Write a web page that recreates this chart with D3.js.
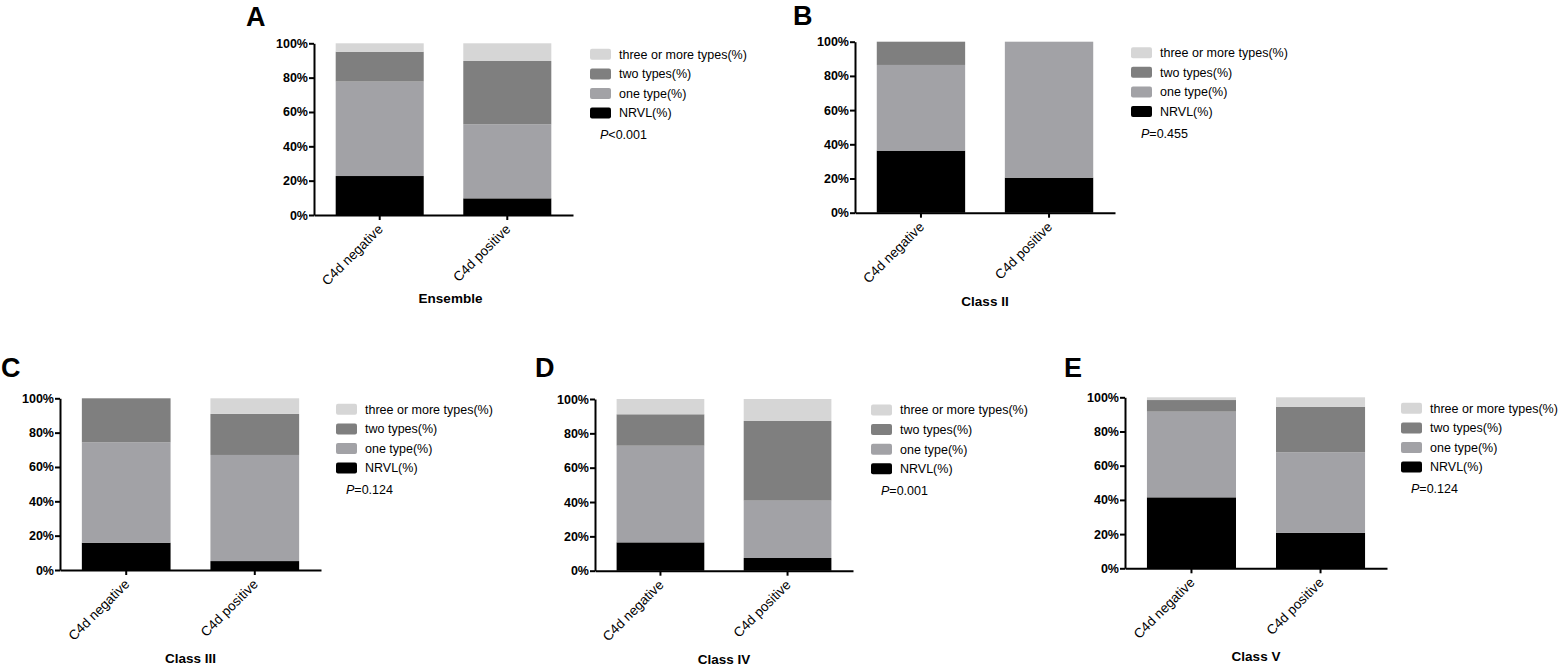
<!DOCTYPE html>
<html>
<head>
<meta charset="utf-8">
<script src="https://cdn.jsdelivr.net/npm/d3@7"></script>
<style>
  body { margin: 0; background: #fff; }
  svg { display: block; font-family: Arial, "Liberation Sans", sans-serif; }
</style>
</head>
<body>
<svg id="chart" width="1560" height="668"></svg>
<script>
// categories and series
const categories = ["C4d negative", "C4d positive"];
const seriesNames = ["NRVL(%)", "one type(%)", "two types(%)", "three or more types(%)"];
const seriesColors = ["#000000", "#a2a2a6", "#7f7f7f", "#d6d6d6"];

// one entry per panel
const panelLetters = ["A", "B", "C", "D", "E"];
const panelTitles = ["Ensemble", "Class II", "Class III", "Class IV", "Class V"];
const pSign = ["<", "=", "=", "=", "="];
const pValues = ["0.001", "0.455", "0.124", "0.001", "0.124"];

// values per panel: [C4d negative, C4d positive]
const nrvl      = [[22.7, 9.7], [36.3, 20.5], [15.9, 5.2], [16.5, 7.4], [41.5, 20.7]];
const oneType   = [[55.0, 43.1], [50.1, 79.5], [58.5, 61.8], [56.3, 33.4], [50.1, 47.1]];
const twoTypes  = [[17.4, 36.9], [13.6, 0], [25.6, 23.9], [18.3, 46.4], [6.8, 26.7]];
const threeMore = [[4.9, 10.3], [0, 0], [0, 9.1], [8.9, 12.8], [1.6, 5.5]];

const yTicks = [0, 20, 40, 60, 80, 100];

// layout of each panel (axis origin, letter placement, title offsets)
const layout = [
  { x0: 314, x1: 573, top: 43.3, bottom: 215,   lx: 246, ly: 26,  ty: 83, tx: 7 },
  { x0: 855, x1: 1115, top: 41.7, bottom: 212.7, lx: 793, ly: 25,  ty: 88, tx: 0 },
  { x0: 60,  x1: 321, top: 398.3, bottom: 570,   lx: 1,   ly: 377, ty: 88, tx: 0 },
  { x0: 595, x1: 853, top: 399,   bottom: 570.7, lx: 535, ly: 377, ty: 88, tx: 0 },
  { x0: 1125, x1: 1387, top: 397.3, bottom: 568.3, lx: 1064, ly: 377, ty: 88, tx: 0 }
];

const svg = d3.select("#chart");

function drawPanel(i) {
  const L = layout[i];
  const g = svg.append("g");

  const x = d3.scaleBand()
    .domain(categories)
    .range([L.x0, L.x1])
    .paddingInner(0.31)
    .paddingOuter(0.17);

  const y = d3.scaleLinear()
    .domain([0, 100])
    .range([L.bottom, L.top]);

  // stack the four series
  const rows = categories.map((c, j) => ({
    cat: c,
    "NRVL(%)": nrvl[i][j],
    "one type(%)": oneType[i][j],
    "two types(%)": twoTypes[i][j],
    "three or more types(%)": threeMore[i][j]
  }));
  const stacked = d3.stack().keys(seriesNames)(rows);

  g.selectAll("g.layer")
    .data(stacked)
    .join("g")
    .attr("class", "layer")
    .attr("fill", (d, k) => seriesColors[k])
    .selectAll("rect")
    .data(d => d)
    .join("rect")
    .attr("x", d => x(d.data.cat))
    .attr("width", x.bandwidth())
    .attr("y", d => y(d[1]))
    .attr("height", d => Math.max(0, y(d[0]) - y(d[1])));

  // y axis
  const yAxis = g.append("g")
    .attr("transform", `translate(${L.x0},0)`)
    .call(d3.axisLeft(y).tickValues(yTicks).tickFormat(d => d + "%").tickSize(5).tickSizeOuter(0));
  yAxis.select(".domain").attr("stroke-width", 2);
  yAxis.selectAll(".tick line").attr("stroke-width", 2);
  yAxis.selectAll(".tick text")
    .attr("x", -6)
    .style("font-size", "12.5px")
    .style("font-weight", "bold")
    .attr("fill", "#000");

  // x axis
  const xAxis = g.append("g")
    .attr("transform", `translate(0,${L.bottom})`)
    .call(d3.axisBottom(x).tickSize(5).tickSizeOuter(0));
  xAxis.select(".domain").attr("stroke-width", 2);
  xAxis.selectAll(".tick line").attr("stroke-width", 2);
  xAxis.selectAll(".tick text")
    .attr("text-anchor", "end")
    .attr("y", 0)
    .attr("dy", 0)
    .attr("transform", "translate(4,15) rotate(-45)")
    .style("font-size", "13.5px")
    .attr("fill", "#000");
  g.selectAll(".domain, .tick line").attr("stroke", "#000");

  // x title
  g.append("text")
    .attr("x", (L.x0 + L.x1) / 2 + L.tx)
    .attr("y", L.bottom + L.ty + 5)
    .attr("text-anchor", "middle")
    .style("font-size", "13.5px")
    .style("font-weight", "bold")
    .text(panelTitles[i]);

  // panel letter
  g.append("text")
    .attr("x", L.lx)
    .attr("y", L.ly)
    .style("font-size", "27px")
    .style("font-weight", "bold")
    .text(panelLetters[i]);

  // legend, top entry is the last series
  const legendOrder = seriesNames.slice().reverse();
  const lg = g.append("g");
  legendOrder.forEach((name, k) => {
    const cy = L.top + 11 + k * 19.6;
    lg.append("rect")
      .attr("x", L.x0 + 276)
      .attr("y", cy - 5.5)
      .attr("width", 21)
      .attr("height", 11)
      .attr("rx", 2)
      .attr("fill", seriesColors[seriesNames.indexOf(name)]);
    lg.append("text")
      .attr("x", L.x0 + 305)
      .attr("y", cy)
      .attr("dy", "0.35em")
      .style("font-size", "12.5px")
      .text(name);
  });

  const pt = g.append("text")
    .attr("x", L.x0 + 286)
    .attr("y", L.top + 91.5)
    .attr("dy", "0.35em")
    .style("font-size", "12.5px");
  pt.append("tspan").style("font-style", "italic").text("P");
  pt.append("tspan").text(pSign[i] + pValues[i]);
}

panelLetters.forEach((p, i) => drawPanel(i));
</script>
</body>
</html>
